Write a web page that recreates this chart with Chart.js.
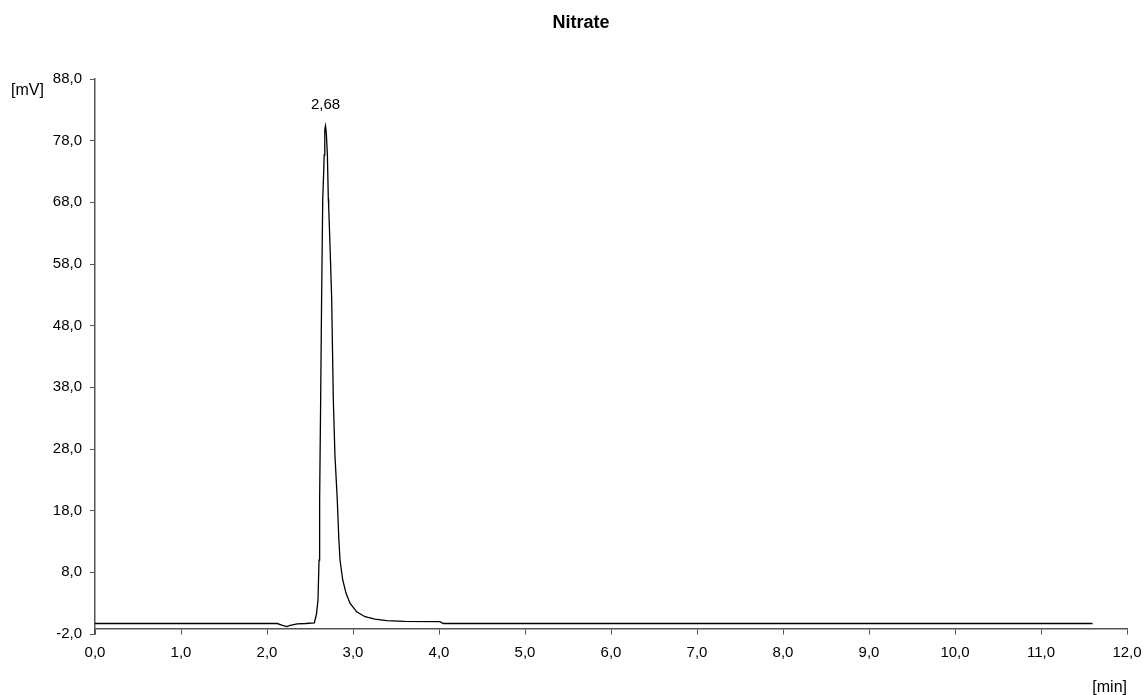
<!DOCTYPE html>
<html>
<head>
<meta charset="utf-8">
<title>Nitrate</title>
<script src="https://cdn.jsdelivr.net/npm/chart.js@4/dist/chart.umd.min.js"></script>
<style>
	html, body { margin: 0; padding: 0; background: #fff; }
	#wrap { width: 1144px; height: 695px; position: relative; }
</style>
</head>
<body>
<div id="wrap"><canvas id="chrom"></canvas></div>
<script>
const titleText = "Nitrate";
const yUnit = "[mV]";
const xUnit = "[min]";

// retention time [min]
const times = [
	0, 2.12, 2.18, 2.23, 2.27, 2.35, 2.45, 2.55, 2.575, 2.593,
	2.605, 2.612, 2.624, 2.635, 2.648, 2.658, 2.665, 2.672, 2.68, 2.69,
	2.702, 2.713, 2.717, 2.735, 2.752, 2.771, 2.79, 2.817, 2.835, 2.849,
	2.88, 2.919, 2.965, 3.043, 3.14, 3.256, 3.39, 3.6, 4.01, 4.05, 11.6,
];
// detector signal [mV]
const signal = [
	-0.3, -0.3, -0.6, -0.8, -0.6, -0.35, -0.3, -0.2, 1.2, 3.5,
	10.0, 19.8, 36.1, 52.4, 68.6, 72.4, 75.7, 79.8, 80.4, 79.2,
	75.7, 68.6, 67.5, 60.0, 52.4, 36.1, 27.0, 19.8, 13.5, 10.0,
	6.8, 4.6, 3.0, 1.6, 0.8, 0.4, 0.16, 0.05, 0.0, -0.3, -0.3,
];

const yTickValues = [-2, 8, 18, 28, 38, 48, 58, 68, 78, 88];
const xTickValues = [0, 1, 2, 3, 4, 5, 6, 7, 8, 9, 10, 11, 12];

const peakTime = 2.68;
const peakHeight = 80.4;
const peakLabel = "2,68";

const fmt = (v) => Number(v).toFixed(1).replace(".", ",");
const axisGrey = "#555";
const fontFamily = "'Liberation Sans', Arial, sans-serif";

const extras = {
	id: "extras",
	afterDraw(chart) {
		const ctx = chart.ctx;
		const xs = chart.scales.x;
		const ys = chart.scales.y;
		ctx.save();
		ctx.fillStyle = "#000";

		ctx.font = `bold 18px ${fontFamily}`;
		ctx.textAlign = "center";
		ctx.textBaseline = "alphabetic";
		ctx.fillText(titleText, 581, 28);

		ctx.font = `16px ${fontFamily}`;
		ctx.textAlign = "left";
		ctx.fillText(yUnit, 11, 95);
		ctx.textAlign = "right";
		ctx.fillText(xUnit, 1127, 692);

		// peak annotation
		ctx.font = `15px ${fontFamily}`;
		ctx.textAlign = "center";
		ctx.fillText(peakLabel, xs.getPixelForValue(peakTime), ys.getPixelForValue(peakHeight) - 17);
		ctx.restore();
	},
};

const canvas = document.getElementById("chrom");
const chart = new Chart(canvas, {
	type: "line",
	data: {
		datasets: [
			{
				label: titleText,
				data: times.map((t, i) => ({ x: t, y: signal[i] })),
				borderColor: "#000",
				borderWidth: 1.3,
				pointRadius: 0,
				fill: false,
				tension: 0,
			},
		],
	},
	options: {
		responsive: true,
		maintainAspectRatio: false,
		animation: false,
		layout: {
			padding: { top: 79, left: 0, right: 17, bottom: 61 },
		},
		plugins: {
			legend: { display: false },
			title: { display: false },
			tooltip: { enabled: false },
		},
		scales: {
			x: {
				type: "linear",
				position: { y: -1.2 },
				min: 0,
				max: 12,
				afterBuildTicks: (scale) => {
					scale.ticks = xTickValues.map((v) => ({ value: v }));
				},
				afterFit: (scale) => {
					scale.paddingLeft = 0;
					scale.paddingRight = 0;
				},
				ticks: {
					autoSkip: false,
					maxRotation: 0,
					padding: 10,
					color: "#000",
					font: { family: fontFamily, size: 15 },
					callback: (value) => fmt(value),
				},
				grid: {
					display: true,
					drawOnChartArea: false,
					drawTicks: true,
					tickLength: 5,
					color: axisGrey,
				},
				border: { display: true, color: axisGrey, width: 1.5 },
			},
			y: {
				type: "linear",
				min: -2,
				max: 88,
				afterBuildTicks: (scale) => {
					scale.ticks = yTickValues.map((v) => ({ value: v }));
				},
				afterFit: (scale) => {
					scale.width = 95;
				},
				ticks: {
					autoSkip: false,
					padding: 8,
					color: "#000",
					font: { family: fontFamily, size: 15 },
					callback: (value) => fmt(value),
				},
				grid: {
					display: true,
					drawOnChartArea: false,
					drawTicks: true,
					tickLength: 5,
					color: axisGrey,
				},
				border: { display: true, color: axisGrey, width: 1.5 },
			},
		},
	},
	plugins: [extras],
});
</script>
</body>
</html>
